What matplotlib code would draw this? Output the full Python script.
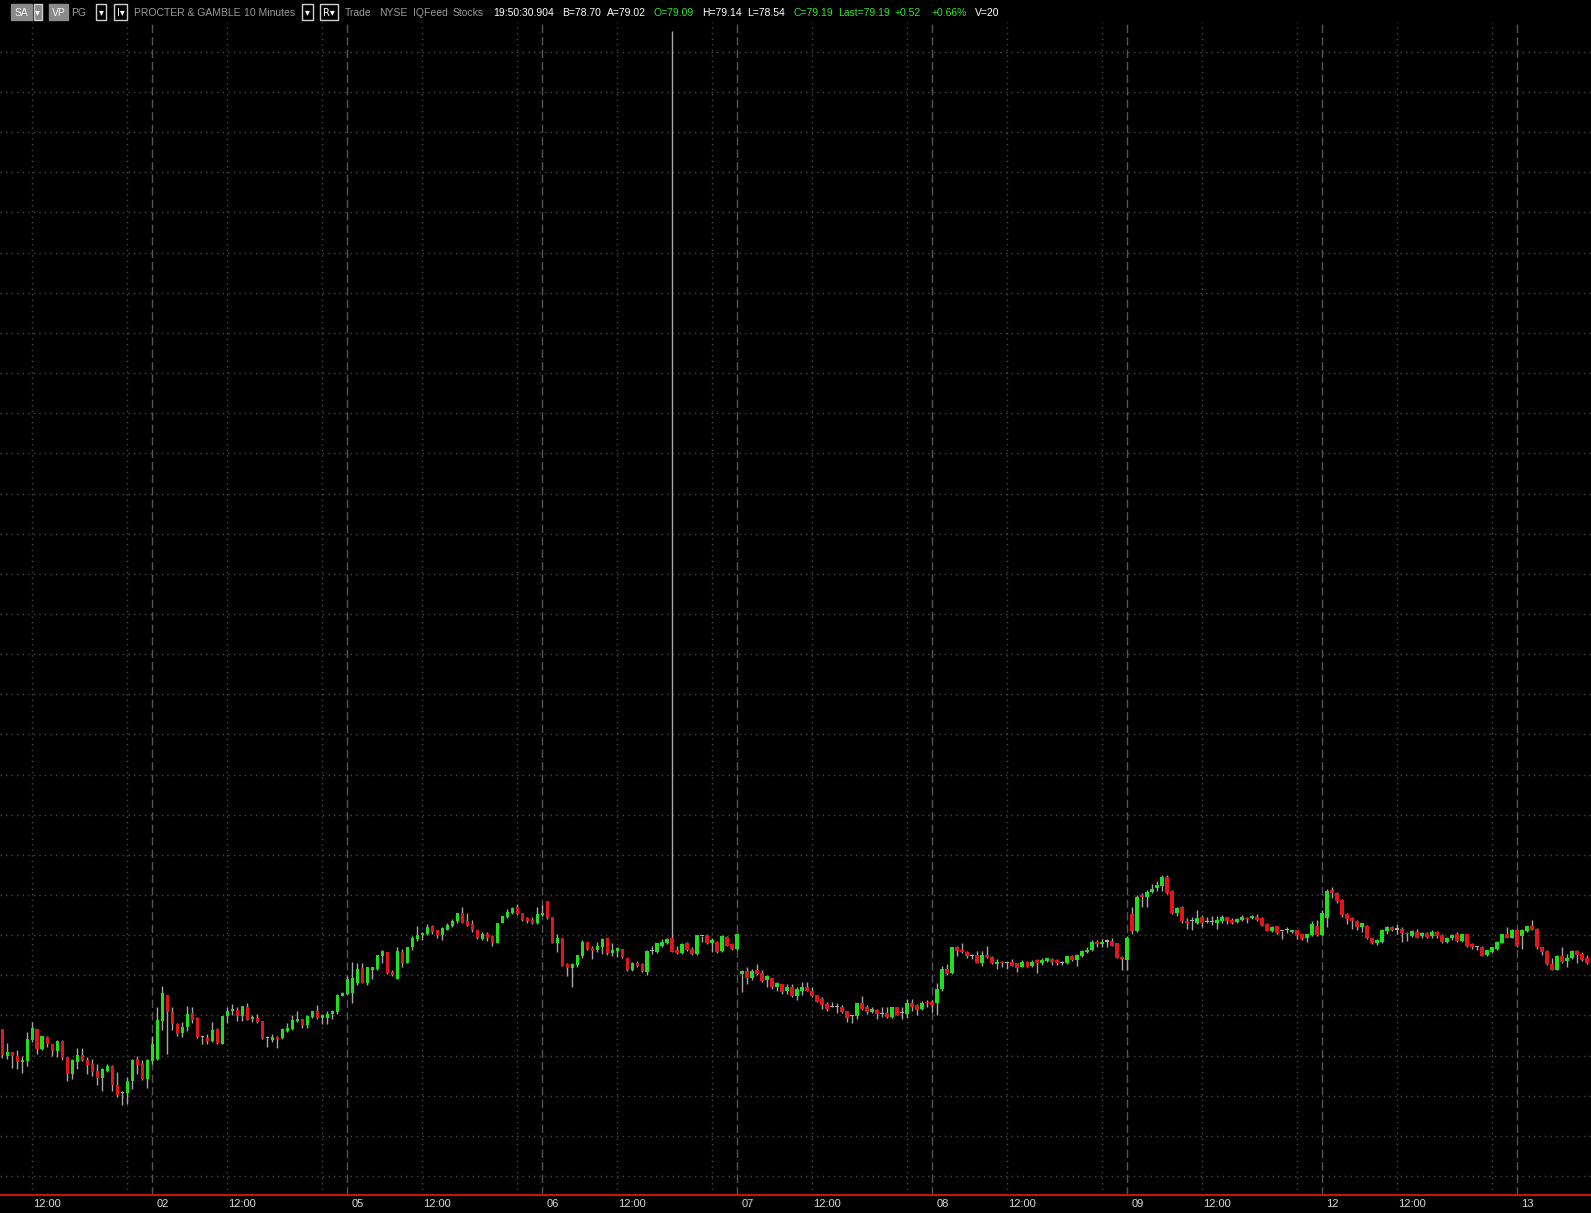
import matplotlib
matplotlib.use('Agg')
import matplotlib.pyplot as plt
import matplotlib.transforms as mtransforms
from matplotlib.patches import Rectangle

# ---------------- data (10-minute bars, PG) ----------------
opens = [78.33,78.00,78.04,78.00,77.92,77.93,78.20,78.33,78.08,78.23,
         78.14,78.06,78.18,77.98,77.77,77.92,78.01,77.94,77.89,77.81,
         77.72,77.81,77.87,77.64,77.53,77.53,77.68,77.96,77.89,77.71,
         77.93,77.96,78.43,78.76,78.54,78.39,78.28,78.36,78.53,78.47,
         78.23,78.22,78.18,78.33,78.15,78.49,78.56,78.57,78.49,78.61,
         78.45,78.47,78.43,78.22,78.20,78.23,78.22,78.31,78.33,78.43,
         78.45,78.38,78.48,78.56,78.47,78.47,78.52,78.54,78.74,78.77,
         78.78,78.90,79.09,78.90,79.06,79.08,79.24,79.29,79.04,78.95,
         79.29,79.15,79.35,79.45,79.50,79.51,79.61,79.56,79.50,79.57,
         79.61,79.67,79.77,79.67,79.64,79.56,79.45,79.51,79.49,79.40,
         79.65,79.72,79.77,79.85,79.77,79.71,79.69,79.65,79.75,79.92,
         79.72,79.40,79.47,79.14,79.09,79.13,79.24,79.42,79.34,79.31,
         79.35,79.46,79.28,79.30,79.33,79.22,79.06,79.15,79.14,79.04,
         79.30,79.29,79.37,79.40,79.46,79.31,79.28,79.40,79.33,79.26,
         79.49,79.50,79.40,79.42,79.30,79.48,79.39,79.33,79.01,79.05,
         78.97,79.06,79.03,78.94,78.97,78.85,78.89,78.81,78.85,78.74,
         78.81,78.85,78.81,78.75,78.70,78.64,78.60,78.60,78.60,78.55,
         78.49,78.49,78.65,78.60,78.54,78.57,78.52,78.53,78.48,78.60,
         78.53,78.52,78.65,78.63,78.58,78.67,78.67,78.65,78.83,79.08,
         79.03,79.35,79.31,79.29,79.24,79.25,79.15,79.25,79.23,79.14,
         79.17,79.15,79.17,79.15,79.10,79.17,79.12,79.19,79.15,79.18,
         79.20,79.19,79.15,79.15,79.24,79.19,79.24,79.29,79.31,79.42,
         79.39,79.42,79.43,79.40,79.23,79.19,79.76,79.55,80.00,79.98,
         80.04,80.09,80.11,80.22,80.05,79.77,79.85,79.67,79.67,79.65,
         79.72,79.66,79.66,79.65,79.67,79.72,79.69,79.66,79.69,79.71,
         79.71,79.73,79.71,79.64,79.55,79.61,79.55,79.56,79.54,79.56,
         79.51,79.46,79.50,79.62,79.50,79.71,80.06,80.03,79.94,79.76,
         79.71,79.68,79.60,79.62,79.46,79.40,79.42,79.55,79.60,79.57,
         79.58,79.53,79.49,79.54,79.49,79.53,79.49,79.54,79.50,79.42,
         79.46,79.51,79.43,79.51,79.39,79.35,79.35,79.25,79.29,79.33,
         79.40,79.51,79.47,79.57,79.49,79.55,79.61,79.58,79.35,79.30,
         79.14,79.07,79.24,79.18,79.21,79.30,79.27,79.21]
highs = [78.33,78.16,78.04,78.07,78.00,78.29,78.42,78.33,78.24,78.25,
         78.14,78.19,78.20,77.98,77.96,78.09,78.09,77.98,77.96,77.90,
         77.84,77.89,77.88,77.79,77.56,77.73,77.96,78.00,77.95,77.96,
         78.25,78.61,78.87,78.76,78.61,78.40,78.42,78.62,78.60,78.48,
         78.25,78.27,78.42,78.34,78.49,78.61,78.64,78.61,78.62,78.66,
         78.50,78.52,78.43,78.24,78.27,78.25,78.34,78.41,78.50,78.56,
         78.46,78.50,78.56,78.63,78.52,78.56,78.57,78.77,78.79,78.99,
         79.17,79.15,79.15,79.10,79.10,79.25,79.32,79.29,79.07,79.35,
         79.33,79.35,79.49,79.61,79.54,79.64,79.63,79.57,79.60,79.65,
         79.70,79.77,79.85,79.77,79.69,79.56,79.54,79.54,79.50,79.65,
         79.74,79.82,79.85,79.89,79.77,79.73,79.72,79.85,79.88,79.92,
         79.72,79.51,79.47,79.15,79.15,79.25,79.44,79.42,79.36,79.42,
         79.46,79.46,79.40,79.35,79.33,79.22,79.17,79.18,79.15,79.31,
         79.37,79.40,79.45,79.46,90.76,79.36,79.40,79.42,79.35,79.50,
         79.49,79.51,79.46,79.43,79.50,79.49,79.40,79.53,79.06,79.10,
         79.08,79.14,79.06,79.00,78.97,78.92,78.89,78.89,78.89,78.85,
         78.92,78.92,78.85,78.76,78.73,78.67,78.67,78.65,78.63,78.56,
         78.51,78.65,78.74,78.63,78.60,78.58,78.60,78.60,78.61,78.61,
         78.60,78.71,78.71,78.64,78.68,78.69,78.69,78.90,79.12,79.14,
         79.35,79.37,79.40,79.30,79.27,79.30,79.30,79.36,79.24,79.20,
         79.18,79.17,79.20,79.15,79.19,79.18,79.19,79.20,79.21,79.22,
         79.21,79.20,79.18,79.24,79.25,79.26,79.31,79.35,79.44,79.44,
         79.45,79.45,79.46,79.40,79.24,79.49,79.85,80.00,80.02,80.06,
         80.14,80.17,80.25,80.25,80.06,79.85,79.86,79.71,79.73,79.81,
         79.75,79.72,79.74,79.74,79.75,79.73,79.71,79.71,79.75,79.72,
         79.75,79.76,79.72,79.65,79.61,79.62,79.55,79.60,79.57,79.57,
         79.52,79.52,79.67,79.69,79.81,80.08,80.10,80.04,79.95,79.77,
         79.72,79.69,79.65,79.63,79.47,79.45,79.58,79.61,79.61,79.64,
         79.60,79.54,79.56,79.58,79.54,79.54,79.56,79.55,79.51,79.48,
         79.51,79.54,79.52,79.52,79.40,79.36,79.36,79.32,79.35,79.43,
         79.52,79.60,79.58,79.58,79.58,79.62,79.69,79.59,79.35,79.32,
         79.21,79.25,79.35,79.26,79.31,79.31,79.29,79.25]
lows = [77.97,77.96,77.85,77.83,77.78,77.87,78.17,78.02,78.07,78.11,
        78.00,77.98,77.95,77.68,77.71,77.83,77.93,77.77,77.75,77.63,
        77.56,77.79,77.56,77.48,77.38,77.40,77.59,77.77,77.69,77.60,
        77.90,77.94,78.32,78.02,78.32,78.25,78.23,78.31,78.40,78.22,
        78.14,78.15,78.17,78.15,78.15,78.40,78.50,78.43,78.43,78.44,
        78.42,78.40,78.21,78.11,78.17,78.09,78.21,78.29,78.32,78.42,
        78.34,78.34,78.47,78.46,78.39,78.39,78.45,78.52,78.74,78.75,
        78.65,78.88,78.90,78.88,78.95,79.06,79.15,79.01,78.99,78.95,
        79.10,79.15,79.32,79.43,79.44,79.50,79.52,79.46,79.44,79.56,
        79.60,79.65,79.65,79.61,79.54,79.45,79.44,79.43,79.36,79.40,
        79.65,79.71,79.76,79.75,79.67,79.65,79.64,79.64,79.74,79.70,
        79.40,79.29,79.11,78.99,78.85,79.10,79.22,79.31,79.20,79.29,
        79.27,79.25,79.24,79.23,79.22,79.05,79.05,79.10,79.04,79.00,
        79.27,79.28,79.35,79.39,79.29,79.26,79.27,79.30,79.25,79.25,
        79.42,79.39,79.29,79.28,79.29,79.36,79.31,79.32,78.79,78.89,
        78.94,79.00,78.92,78.85,78.83,78.80,78.77,78.77,78.73,78.69,
        78.75,78.80,78.73,78.67,78.58,78.55,78.60,78.53,78.53,78.42,
        78.40,78.45,78.57,78.52,78.53,78.46,78.48,78.47,78.47,78.50,
        78.46,78.47,78.56,78.50,78.57,78.60,78.54,78.50,78.81,79.00,
        79.02,79.24,79.28,79.21,79.20,79.15,79.11,79.22,79.14,79.08,
        79.10,79.08,79.11,79.04,79.10,79.10,79.10,79.03,79.13,79.17,
        79.13,79.13,79.13,79.14,79.18,79.11,79.23,79.28,79.30,79.35,
        79.35,79.35,79.36,79.21,79.07,79.06,79.51,79.54,79.85,79.85,
        80.02,80.05,80.05,80.01,79.76,79.74,79.65,79.58,79.56,79.64,
        79.60,79.65,79.63,79.58,79.65,79.64,79.64,79.65,79.67,79.65,
        79.70,79.68,79.61,79.55,79.54,79.51,79.45,79.53,79.53,79.45,
        79.44,79.42,79.49,79.49,79.49,79.60,79.96,79.90,79.73,79.64,
        79.58,79.56,79.54,79.45,79.39,79.38,79.40,79.52,79.55,79.52,
        79.42,79.43,79.48,79.46,79.47,79.47,79.47,79.47,79.40,79.40,
        79.44,79.42,79.42,79.35,79.33,79.31,79.24,79.24,79.28,79.32,
        79.40,79.46,79.46,79.35,79.33,79.54,79.56,79.33,79.25,79.13,
        79.06,79.06,79.15,79.10,79.20,79.15,79.18,79.14]
closes = [78.01,78.04,77.99,77.92,77.95,78.21,78.34,78.08,78.24,78.15,
          78.06,78.18,77.97,77.77,77.94,78.01,77.94,77.88,77.79,77.72,
          77.83,77.87,77.64,77.51,77.53,77.68,77.95,77.88,77.71,77.95,
          78.15,78.44,78.78,78.54,78.39,78.27,78.36,78.52,78.44,78.23,
          78.23,78.18,78.32,78.16,78.49,78.56,78.58,78.49,78.62,78.44,
          78.48,78.42,78.22,78.22,78.23,78.21,78.33,78.34,78.44,78.45,
          78.38,78.49,78.56,78.47,78.50,78.52,78.56,78.75,78.78,78.96,
          78.97,79.08,78.90,79.10,79.10,79.25,79.30,79.03,79.00,79.30,
          79.15,79.35,79.46,79.50,79.53,79.60,79.54,79.50,79.59,79.63,
          79.68,79.77,79.65,79.63,79.56,79.46,79.52,79.46,79.40,79.65,
          79.74,79.79,79.84,79.76,79.69,79.67,79.65,79.76,79.78,79.71,
          79.40,79.47,79.12,79.09,79.14,79.25,79.42,79.33,79.30,79.36,
          79.45,79.28,79.31,79.34,79.23,79.06,79.15,79.12,79.05,79.30,
          79.30,79.40,79.42,79.45,79.29,79.28,79.39,79.31,79.27,79.50,
          79.49,79.40,79.44,79.29,79.49,79.37,79.33,79.52,79.05,78.97,
          79.05,79.01,78.93,78.99,78.85,78.90,78.79,78.86,78.74,78.83,
          78.85,78.81,78.74,78.67,78.63,78.58,78.60,78.60,78.54,78.47,
          78.49,78.65,78.58,78.54,78.58,78.52,78.52,78.48,78.60,78.51,
          78.53,78.66,78.61,78.57,78.66,78.65,78.63,78.83,79.08,79.01,
          79.35,79.30,79.29,79.24,79.24,79.15,79.25,79.23,79.15,79.17,
          79.15,79.15,79.12,79.09,79.17,79.10,79.17,79.15,79.19,79.21,
          79.16,79.15,79.15,79.24,79.19,79.25,79.30,79.32,79.42,79.39,
          79.42,79.42,79.37,79.22,79.20,79.46,79.55,79.98,79.97,80.04,
          80.08,80.12,80.22,80.02,79.77,79.84,79.67,79.65,79.67,79.71,
          79.65,79.66,79.66,79.69,79.72,79.67,79.65,79.70,79.72,79.70,
          79.74,79.69,79.62,79.55,79.60,79.53,79.55,79.56,79.56,79.50,
          79.45,79.51,79.64,79.50,79.78,80.05,80.02,79.93,79.75,79.70,
          79.67,79.60,79.65,79.46,79.40,79.44,79.57,79.60,79.56,79.57,
          79.53,79.51,79.55,79.47,79.53,79.48,79.54,79.49,79.42,79.47,
          79.50,79.43,79.51,79.36,79.35,79.35,79.24,79.31,79.35,79.42,
          79.51,79.47,79.57,79.36,79.56,79.61,79.57,79.35,79.29,79.14,
          79.07,79.24,79.17,79.22,79.30,79.25,79.19,79.15]

day_labels = ['01', '02', '05', '06', '07', '08', '09', '12', '13']
bars_per_day = 39          # 09:30 - 16:00 in 10-minute bars
first_visible_bar = 9      # first bar shown is the 10th bar of day 01
noon_label = '12:00'
noon_bar = 15              # bars after the open
late_bar = 34              # unlabeled afternoon grid line

header_parts = [
    ('PG', '#9a9a9a'), ('PROCTER & GAMBLE', '#9a9a9a'), ('10 Minutes', '#9a9a9a'),
    ('Trade', '#9a9a9a'), ('NYSE', '#9a9a9a'), ('IQFeed', '#9a9a9a'), ('Stocks', '#9a9a9a'),
    ('19:50:30.904', '#ffffff'), ('B=78.70', '#ffffff'), ('A=79.02', '#ffffff'),
    ('O=79.09', '#2ee82e'), ('H=79.14', '#ffffff'), ('L=78.54', '#ffffff'),
    ('C=79.19', '#2ee82e'), ('Last=79.19', '#2ee82e'), ('+0.52', '#2ee82e'),
    ('+0.66%', '#2ee82e'), ('V=20', '#ffffff'),
]
header_x = [71, 134, 244, 345, 379, 413, 453, 493, 562, 607, 654, 702, 747, 793, 838, 895, 932, 975]

# ---------------- layout ----------------
W, H = 1591, 1213
BAR_PX = 5.0
X0_PX = 2.3
AX_TOP, AX_BOT = 22, 1195
PX_PER_DOLLAR = 80.3
REF_PRICE, REF_Y = 80.0, 895

fig = plt.figure(figsize=(W / 100, H / 100), dpi=100, facecolor='black')
ax = fig.add_axes([0, (H - AX_BOT) / H, 1, (AX_BOT - AX_TOP) / H])
ax.set_facecolor('black')

n = len(closes)
xs = list(range(n))
ax.set_xlim(-X0_PX / BAR_PX, (W - X0_PX) / BAR_PX)
ax.set_ylim(REF_PRICE - (AX_BOT - REF_Y) / PX_PER_DOLLAR,
            REF_PRICE + (REF_Y - AX_TOP) / PX_PER_DOLLAR)

# grid
grid_c = '#464646'
lvl = 76.5
while lvl < 91:
    ax.axhline(lvl, color=grid_c, lw=1, ls=(0, (1, 3)), zorder=0)
    lvl += 0.5

day_starts = [d * bars_per_day - first_visible_bar for d in range(len(day_labels))]
xmax = (W - X0_PX) / BAR_PX
tick_items = []
for d, s in enumerate(day_starts):
    if s >= 0:
        ax.axvline(s, color='#555555', lw=1, ls=(0, (6, 3)), zorder=0)
        tick_items.append((s, day_labels[d], 4))
    for off, lab in ((noon_bar, noon_label), (late_bar, None)):
        p = s + off
        if 0 <= p <= xmax:
            ax.axvline(p, color=grid_c, lw=1, ls=(0, (1, 3)), zorder=0)
            if lab:
                tick_items.append((p, lab, 1))

# candles
colors = []
for o, c in zip(opens, closes):
    if c > o:
        colors.append('#1fe01f')
    elif c < o:
        colors.append('#e0161b')
    else:
        colors.append('#b0b0b0')
ax.vlines(xs, lows, highs, colors='#a8a8a8', lw=1, zorder=2)
bottoms = [min(o, c) for o, c in zip(opens, closes)]
heights = [max(abs(c - o), 0.014) for o, c in zip(opens, closes)]
ax.bar(xs, heights, bottom=bottoms, width=0.72, color=colors, lw=0, zorder=3)

for s in ('top', 'left', 'right'):
    ax.spines[s].set_visible(False)
ax.spines['bottom'].set_color('#d01010')
ax.spines['bottom'].set_linewidth(1.5)
ax.set_xticks([])
ax.set_yticks([])

# x labels
trans = mtransforms.blended_transform_factory(ax.transData, fig.transFigure)
for p, lab, dx in tick_items:
    ax.text(p + dx / BAR_PX, 1 - 1204 / H, lab, transform=trans, color='#dadada',
            fontsize=8, family=['Liberation Sans', 'DejaVu Sans'],
            ha='left', va='center', clip_on=False)

# header
def fx(px):
    return px / W

def fy(py):
    return 1 - py / H

def box(x1, x2, fill, edge):
    r = Rectangle((fx(x1), fy(20)), (x2 - x1) / W, 16 / H, transform=fig.transFigure,
                  facecolor=fill, edgecolor=edge, lw=1)
    fig.add_artist(r)

hy = fy(12.5)
fam = ['Liberation Sans', 'DejaVu Sans']
box(11, 32, '#8a8a8a', '#8a8a8a')
fig.text(fx(21.5), hy, 'SA', color='#f4f4f4', fontsize=7.5, family=fam, ha='center', va='center')
box(33.5, 42, '#8a8a8a', '#cfcfcf')
fig.text(fx(37.8), hy, '\u25be', color='#ffffff', fontsize=7, family=['DejaVu Sans'], ha='center', va='center')
box(49, 68, '#8a8a8a', '#8a8a8a')
fig.text(fx(58.5), hy, 'VP', color='#f4f4f4', fontsize=7.5, family=fam, ha='center', va='center')
for x1, x2, t in ((96, 106, '\u25be'), (114, 127, 'I\u25be'), (302, 313, '\u25be'), (320, 338, 'R\u25be')):
    box(x1, x2, '#000000', '#d0d0d0')
    fig.text(fx((x1 + x2) / 2), hy, t, color='#ffffff', fontsize=7, family=['DejaVu Sans'],
             ha='center', va='center')

for (t, c), x in zip(header_parts, header_x):
    fig.text(fx(x), hy, t, color=c, fontsize=7.5, family=fam, ha='left', va='center')

fig.savefig('out.png', dpi=100, facecolor='black')
